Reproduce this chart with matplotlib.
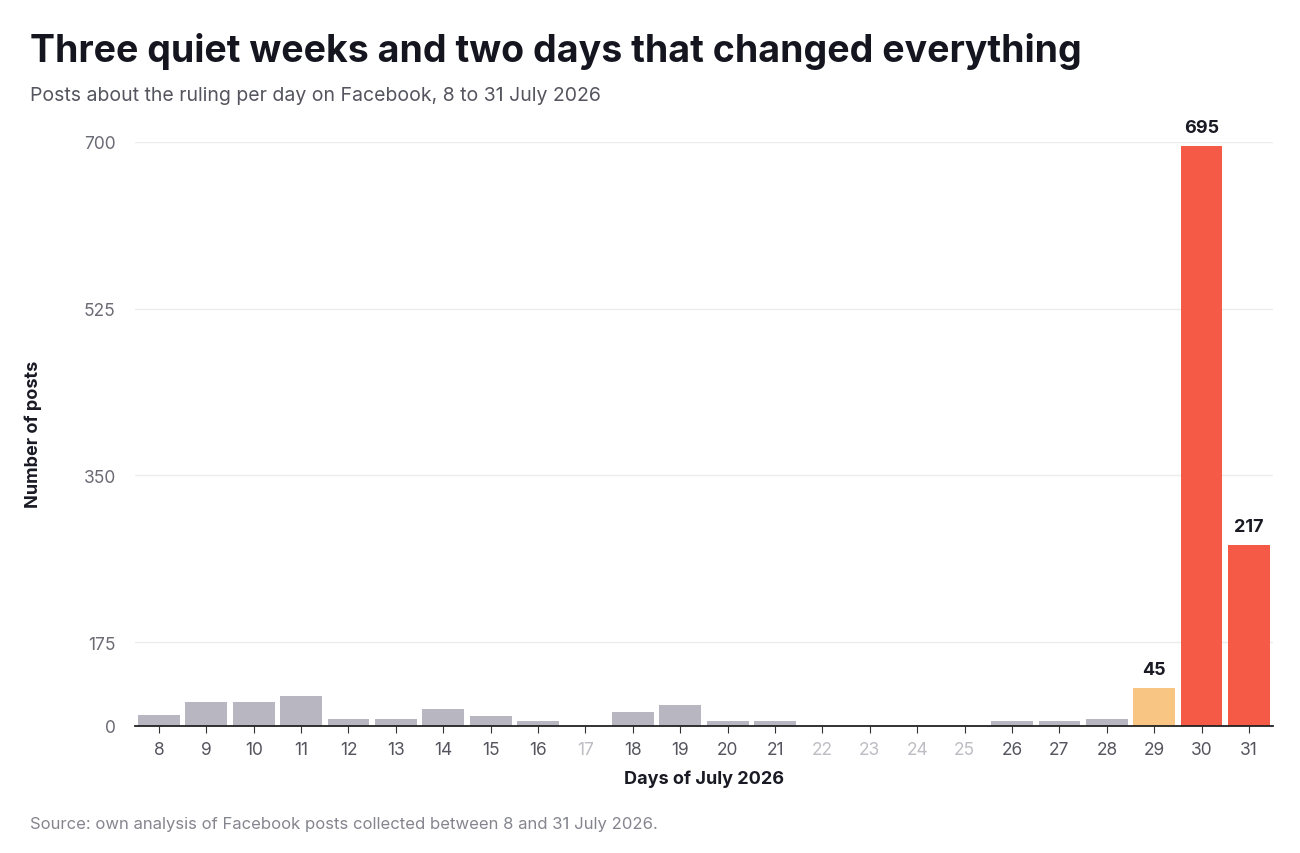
import matplotlib.pyplot as plt

plt.rcParams['font.family'] = ['Inter', 'DejaVu Sans']

days = [str(d) for d in range(8, 32)]
posts = [13, 29, 29, 36, 8, 8, 20, 12, 6, 0, 16, 25, 6, 6, 0, 0, 0, 0, 6, 6, 8, 45, 695, 217]
# tick positions and the labels the source chart printed on them
tick_pos = [0, 100, 300, 500, 700]
tick_labels = ['0', '175', '350', '525', '700']

colors = []
for d, v in zip(days, posts):
    if d in ('30', '31'):
        colors.append('#f55a46')
    elif d == '29':
        colors.append('#f9c583')
    else:
        colors.append('#b8b6c0')

fig = plt.figure(figsize=(13, 8.54), dpi=100)
ax = fig.add_axes([0.104, 0.149, 0.875, 0.684])
x = range(len(days))
ax.bar(x, posts, width=0.88, color=colors, zorder=2)
ax.set_xlim(-0.5, len(days) - 0.5)
ax.set_ylim(0, 700)
ax.set_yticks(tick_pos)
ax.set_yticklabels(tick_labels)
ax.set_xticks(list(x))
ax.set_xticklabels(days)
for lbl, v in zip(ax.get_xticklabels(), posts):
    lbl.set_color('#bdbdc4' if v == 0 else '#55555f')
ax.tick_params(axis='x', length=5, color='#333333', labelsize=12.5, pad=6)
ax.tick_params(axis='y', length=0, labelsize=12.5, labelcolor='#6b6b75', pad=14)
ax.grid(axis='y', color='#ececec', linewidth=1, zorder=0)
for s in ['top', 'right', 'left']:
    ax.spines[s].set_visible(False)
ax.spines['bottom'].set_color('#222222')
ax.spines['bottom'].set_linewidth(1.3)

for i, v in enumerate(posts):
    if v >= 45:
        ax.text(i, v + 12, str(v), ha='center', va='bottom', fontsize=13,
                fontweight='bold', color='#1a1a24', clip_on=False)

ax.set_xlabel('Days of July 2026', fontsize=13, fontweight='bold', color='#1a1a24', labelpad=8)
ax.set_ylabel('Number of posts', fontsize=13, fontweight='bold', color='#1a1a24', labelpad=30)

fig.text(0.023, 0.94, 'Three quiet weeks and two days that changed everything',
         fontsize=27, fontweight='bold', color='#15151f', va='center')
fig.text(0.023, 0.888, 'Posts about the ruling per day on Facebook, 8 to 31 July 2026',
         fontsize=14, color='#55555f', va='center')
fig.text(0.023, 0.034, 'Source: own analysis of Facebook posts collected between 8 and 31 July 2026.',
         fontsize=12, color='#85858f', va='center')

plt.savefig('out.png')
